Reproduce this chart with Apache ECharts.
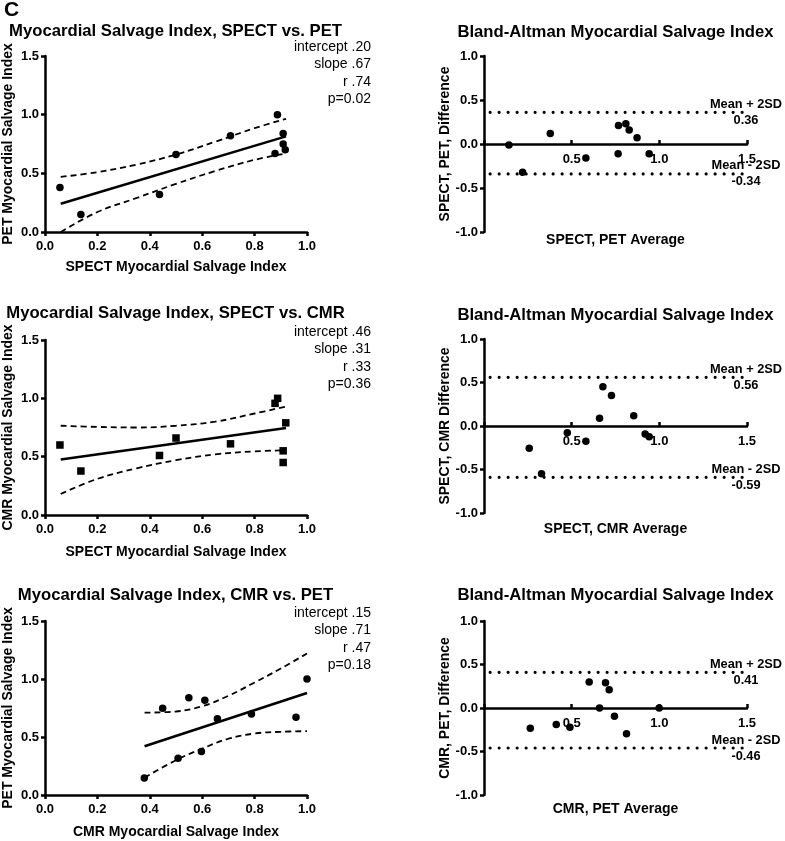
<!DOCTYPE html>
<html>
<head>
<meta charset="utf-8">
<script src="https://cdn.jsdelivr.net/npm/echarts@6/dist/echarts.min.js"></script>
<style>
html,body{margin:0;padding:0;background:#fff;}
#chart{width:785px;height:841px;}
</style>
</head>
<body>
<div id="chart"></div>
<script>
// ---------- DATA ----------
const panelLetter = 'C';

// Panel A: SPECT vs PET
const spectPetTitle = 'Myocardial Salvage Index, SPECT vs. PET';
const spectPetX = [0.057, 0.137, 0.437, 0.50, 0.708, 0.887, 0.878, 0.909, 0.909, 0.917];
const spectPetY = [0.38, 0.15, 0.32, 0.66, 0.82, 1.00, 0.67, 0.84, 0.75, 0.70];
const spectPetFit = [[0.06, 0.24], [0.92, 0.815]];
const spectPetUpper = [[0.06, 0.47], [0.2, 0.51], [0.35, 0.575], [0.5, 0.66], [0.65, 0.77], [0.8, 0.885], [0.92, 0.965]];
const spectPetLower = [[0.06, 0.0], [0.2, 0.17], [0.35, 0.29], [0.5, 0.41], [0.65, 0.52], [0.8, 0.615], [0.92, 0.67]];
const spectPetStats = ['intercept .20', 'slope .67', 'r .74', 'p=0.02'];
const spectPetXName = 'SPECT Myocardial Salvage Index';
const spectPetYName = 'PET Myocardial Salvage Index';

// Panel B: SPECT vs CMR
const spectCmrTitle = 'Myocardial Salvage Index, SPECT vs. CMR';
const spectCmrX = [0.057, 0.137, 0.437, 0.50, 0.708, 0.878, 0.888, 0.919, 0.909, 0.909];
const spectCmrY = [0.60, 0.377, 0.51, 0.66, 0.61, 0.957, 1.00, 0.79, 0.55, 0.45];
const spectCmrFit = [[0.06, 0.475], [0.92, 0.745]];
const spectCmrUpper = [[0.06, 0.765], [0.2, 0.755], [0.35, 0.75], [0.5, 0.765], [0.65, 0.80], [0.8, 0.87], [0.92, 0.93]];
const spectCmrLower = [[0.06, 0.18], [0.2, 0.31], [0.35, 0.40], [0.5, 0.47], [0.65, 0.52], [0.8, 0.545], [0.92, 0.555]];
const spectCmrStats = ['intercept .46', 'slope .31', 'r .33', 'p=0.36'];
const spectCmrXName = 'SPECT Myocardial Salvage Index';
const spectCmrYName = 'CMR Myocardial Salvage Index';

// Panel C: CMR vs PET
const cmrPetTitle = 'Myocardial Salvage Index, CMR vs. PET';
const cmrPetX = [0.379, 0.449, 0.508, 0.549, 0.597, 0.610, 0.658, 0.788, 0.958, 1.00];
const cmrPetY = [0.147, 0.747, 0.316, 0.839, 0.376, 0.816, 0.658, 0.698, 0.67, 1.00];
const cmrPetFit = [[0.38, 0.42], [1.0, 0.88]];
const cmrPetUpper = [[0.38, 0.71], [0.5, 0.72], [0.6, 0.765], [0.7, 0.855], [0.8, 0.97], [0.9, 1.09], [1.0, 1.22]];
const cmrPetLower = [[0.38, 0.15], [0.5, 0.30], [0.6, 0.40], [0.7, 0.485], [0.8, 0.53], [0.9, 0.545], [1.0, 0.55]];
const cmrPetStats = ['intercept .15', 'slope .71', 'r .47', 'p=0.18'];
const cmrPetXName = 'CMR Myocardial Salvage Index';
const cmrPetYName = 'PET Myocardial Salvage Index';

// Bland-Altman panels
const baTitle = 'Bland-Altman Myocardial Salvage Index';
const ba1Avg  = [0.142, 0.22, 0.378, 0.581, 0.767, 0.809, 0.828, 0.873, 0.765, 0.942];
const ba1Diff = [-0.01, -0.32, 0.12, -0.16, 0.21, 0.23, 0.16, 0.07, -0.11, -0.11];
const ba1Upper = 0.36, ba1Lower = -0.34;
const ba1XName = 'SPECT, PET Average', ba1YName = 'SPECT, PET, Difference';

const ba2Avg  = [0.258, 0.328, 0.475, 0.581, 0.659, 0.678, 0.727, 0.854, 0.919, 0.942];
const ba2Diff = [-0.257, -0.55, -0.077, -0.176, 0.088, 0.452, 0.352, 0.119, -0.092, -0.123];
const ba2Upper = 0.56, ba2Lower = -0.59;
const ba2XName = 'SPECT, CMR Average', ba2YName = 'SPECT, CMR Difference';

const ba3Avg  = [0.264, 0.412, 0.49, 0.60, 0.659, 0.693, 0.714, 0.744, 0.813, 0.999];
const ba3Diff = [-0.234, -0.19, -0.22, 0.30, 0.0, 0.29, 0.21, -0.096, -0.295, 0.0];
const ba3Upper = 0.41, ba3Lower = -0.46;
const ba3XName = 'CMR, PET Average', ba3YName = 'CMR, PET, Difference';

const limitLineSpan = [0.035, 1.49];
const limitLabelX = 1.5;
const upperLabel = 'Mean + 2SD', lowerLabel = 'Mean - 2SD';

// ---------- LAYOUT / STYLE ----------
const FONT = "'Liberation Sans', Arial, Helvetica, sans-serif";
const BLACK = '#000';
const chart = echarts.init(document.getElementById('chart'), null, {renderer: 'canvas'});

const scatterPanels = [
  {x: spectPetX, y: spectPetY, fit: spectPetFit, up: spectPetUpper, lo: spectPetLower, stats: spectPetStats,
   title: spectPetTitle, xName: spectPetXName, yName: spectPetYName, sym: 'circle',
   grid: {left: 44, top: 56, width: 263, height: 176}, titleY: 31, statsY: 47, xGap: 28},
  {x: spectCmrX, y: spectCmrY, fit: spectCmrFit, up: spectCmrUpper, lo: spectCmrLower, stats: spectCmrStats,
   title: spectCmrTitle, xName: spectCmrXName, yName: spectCmrYName, sym: 'rect',
   grid: {left: 44, top: 340, width: 263, height: 175}, titleY: 313, statsY: 332, xGap: 30},
  {x: cmrPetX, y: cmrPetY, fit: cmrPetFit, up: cmrPetUpper, lo: cmrPetLower, stats: cmrPetStats,
   title: cmrPetTitle, xName: cmrPetXName, yName: cmrPetYName, sym: 'circle',
   grid: {left: 44, top: 621, width: 263, height: 174}, titleY: 595, statsY: 613, xGap: 30}
];
const baPanels = [
  {x: ba1Avg, y: ba1Diff, up: ba1Upper, lo: ba1Lower, xName: ba1XName, yName: ba1YName,
   grid: {left: 484, top: 56, width: 263, height: 176}, titleY: 32, xGap: 89},
  {x: ba2Avg, y: ba2Diff, up: ba2Upper, lo: ba2Lower, xName: ba2XName, yName: ba2YName,
   grid: {left: 484, top: 339, width: 263, height: 174}, titleY: 315, xGap: 96},
  {x: ba3Avg, y: ba3Diff, up: ba3Upper, lo: ba3Lower, xName: ba3XName, yName: ba3YName,
   grid: {left: 484, top: 621, width: 263, height: 174}, titleY: 595, xGap: 94}
];

const grids = [], xAxes = [], yAxes = [], series = [], graphics = [];
const axisLine = {show: true, lineStyle: {color: BLACK, width: 2.5}};
const tickLabel = {color: BLACK, fontFamily: FONT, fontWeight: 'bold', fontSize: 13};
const nameStyle = {color: BLACK, fontFamily: FONT, fontWeight: 'bold', fontSize: 14};
const fmt1 = v => Number(v).toFixed(1);

graphics.push({type: 'text', left: 4, top: 0, style: {text: panelLetter, font: "bold 21px " + FONT, fill: BLACK}});

scatterPanels.forEach((p, i) => {
  const idx = grids.length;
  grids.push(p.grid);
  xAxes.push({type: 'value', gridIndex: idx, min: 0, max: 1, interval: 0.2,
    axisLine: axisLine, axisTick: {show: true, length: 4, lineStyle: {color: BLACK, width: 2.5}},
    axisLabel: Object.assign({formatter: fmt1, margin: 8}, tickLabel),
    splitLine: {show: false}, name: p.xName, nameLocation: 'middle', nameGap: p.xGap, nameTextStyle: nameStyle});
  yAxes.push({type: 'value', gridIndex: idx, min: 0, max: 1.5, interval: 0.5,
    axisLine: axisLine, axisTick: {show: true, length: 4, lineStyle: {color: BLACK, width: 2.5}},
    axisLabel: Object.assign({formatter: fmt1, margin: 6}, tickLabel),
    splitLine: {show: false}, name: p.yName, nameLocation: 'middle', nameGap: 30, nameTextStyle: nameStyle});
  const band = (d) => ({type: 'line', xAxisIndex: idx, yAxisIndex: idx, data: d, smooth: 0.4, showSymbol: false,
    silent: true, lineStyle: {color: BLACK, width: 1.8, type: [6, 4]}, z: 2});
  series.push(band(p.up), band(p.lo));
  series.push({type: 'line', xAxisIndex: idx, yAxisIndex: idx, data: p.fit, showSymbol: false, silent: true,
    lineStyle: {color: BLACK, width: 2.6}, z: 3});
  series.push({type: 'scatter', xAxisIndex: idx, yAxisIndex: idx, data: p.x.map((v, k) => [v, p.y[k]]),
    symbol: p.sym, symbolSize: 7.5, itemStyle: {color: BLACK, opacity: 1}, z: 4});
  const cx = p.grid.left + p.grid.width / 2;
  graphics.push({type: 'text', x: cx, y: p.titleY,
    style: {text: p.title, font: "bold 16.7px " + FONT, fill: BLACK, textAlign: 'center', textVerticalAlign: 'middle'}});
  p.stats.forEach((s, k) => {
    graphics.push({type: 'text', x: 371, y: p.statsY + k * 17.5,
      style: {text: s, font: "14px " + FONT, fill: BLACK, textAlign: 'right', textVerticalAlign: 'middle'}});
  });
});

baPanels.forEach((p, i) => {
  const idx = grids.length;
  grids.push(p.grid);
  // the x axis sits on the zero line (y range is symmetric, -1..1): shift it up by half the grid height
  xAxes.push({type: 'value', gridIndex: idx, min: 0, max: 1.5, interval: 0.5,
    offset: -p.grid.height / 2,
    axisLine: Object.assign({onZero: false}, axisLine),
    axisTick: {show: true, inside: true, length: 4, lineStyle: {color: BLACK, width: 2.5}},
    axisLabel: Object.assign({formatter: v => v === 0 ? '' : fmt1(v), margin: 9}, tickLabel),
    splitLine: {show: false}, name: p.xName, nameLocation: 'middle', nameGap: p.xGap, nameTextStyle: nameStyle});
  yAxes.push({type: 'value', gridIndex: idx, min: -1, max: 1, interval: 0.5,
    axisLine: axisLine, axisTick: {show: true, length: 4, lineStyle: {color: BLACK, width: 2.5}},
    axisLabel: Object.assign({formatter: fmt1, margin: 6}, tickLabel),
    splitLine: {show: false}, name: p.yName, nameLocation: 'middle', nameGap: 32, nameTextStyle: nameStyle});
  const limit = (v) => ({type: 'line', xAxisIndex: idx, yAxisIndex: idx,
    data: [[limitLineSpan[0], v], [limitLineSpan[1], v]], showSymbol: false, silent: true,
    lineStyle: {color: BLACK, width: 3.2, type: [0, 9], cap: 'round'}, z: 2});
  series.push(limit(p.up), limit(p.lo));
  const lbl = (v, t) => ({type: 'scatter', xAxisIndex: idx, yAxisIndex: idx, data: [[limitLabelX, v]],
    symbolSize: 0, silent: true, z: 5, itemStyle: {opacity: 1},
    label: {show: true, position: 'inside', offset: [-1, 0], formatter: t + '\n' + v.toFixed(2),
      color: BLACK, opacity: 1, fontFamily: FONT, fontWeight: 'bold', fontSize: 12.8, lineHeight: 16, align: 'center'}});
  series.push(lbl(p.up, upperLabel), lbl(p.lo, lowerLabel));
  series.push({type: 'scatter', xAxisIndex: idx, yAxisIndex: idx, data: p.x.map((v, k) => [v, p.y[k]]),
    symbol: 'circle', symbolSize: 7.5, itemStyle: {color: BLACK, opacity: 1}, z: 4});
  const cx = p.grid.left + p.grid.width / 2;
  graphics.push({type: 'text', x: cx, y: p.titleY,
    style: {text: baTitle, font: "bold 16.7px " + FONT, fill: BLACK, textAlign: 'center', textVerticalAlign: 'middle'}});
});

chart.setOption({
  backgroundColor: '#fff',
  animation: false,
  grid: grids,
  xAxis: xAxes,
  yAxis: yAxes,
  series: series,
  graphic: graphics
});
</script>
</body>
</html>
